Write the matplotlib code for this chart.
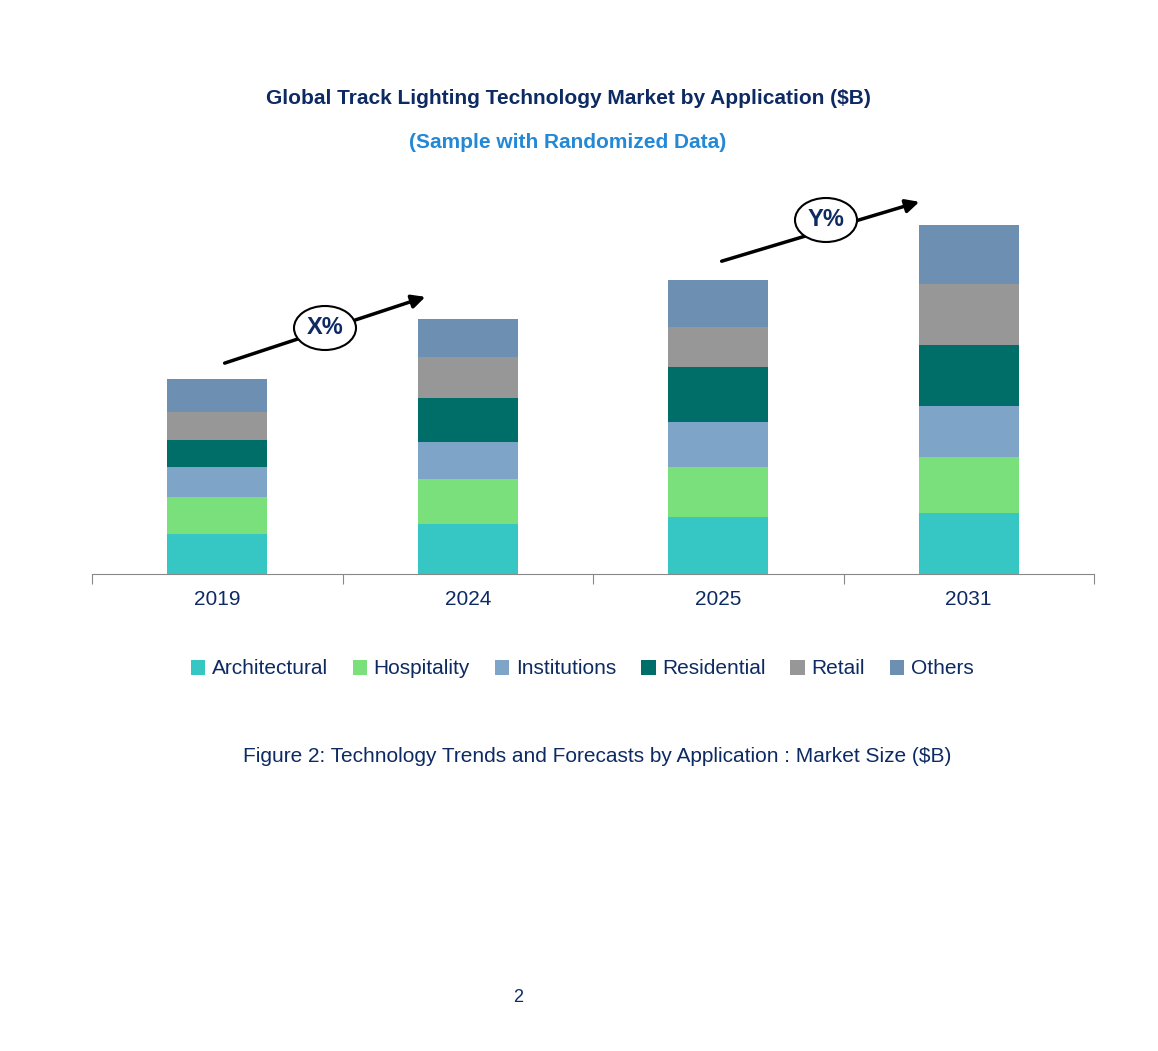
import matplotlib
matplotlib.use("Agg")
import matplotlib.pyplot as plt
from matplotlib.patches import Ellipse
import numpy as np

years = ["2019", "2024", "2025", "2031"]
series = ["Architectural", "Hospitality", "Institutions", "Residential", "Retail", "Others"]
architectural = [4.0, 5.0, 5.7, 6.1]
hospitality = [3.7, 4.5, 5.0, 5.6]
institutions = [3.0, 3.7, 4.5, 5.1]
residential = [2.7, 4.4, 5.5, 6.1]
retail = [2.8, 4.1, 4.0, 6.1]
others = [3.3, 3.8, 4.7, 5.9]
colors = ["#36c6c4", "#7ae07c", "#7ea5c8", "#006e68", "#979797", "#6d90b2"]

W, H = 1158, 1051
fig = plt.figure(figsize=(W/100, H/100), dpi=100)
ax = fig.add_axes([92/W, (H-574)/H, (1094-92)/W, 400/H])
x = np.arange(len(years))
bottom = np.zeros(len(years))
for name, vals, c in zip(series, [architectural, hospitality, institutions, residential, retail, others], colors):
    ax.bar(x, vals, 0.4, bottom=bottom, color=c, label=name)
    bottom += np.array(vals)
ax.set_xlim(-0.5, 3.5)
ax.set_ylim(0, 40)
for s in ["top", "right", "left"]:
    ax.spines[s].set_visible(False)
ax.spines["bottom"].set_color("#888888")
ax.set_yticks([])
ax.set_xticks([-0.5, 0.5, 1.5, 2.5, 3.5], minor=False)
ax.set_xticklabels([])
ax.tick_params(axis="x", length=7, color="#888888", direction="out")
for xi, y in zip(x, years):
    ax.text(xi, -1.6, y, ha="center", va="top", fontsize=15, color="#0d2a63", family="Liberation Sans")

navy = "#0d2a63"
def fp(px, py):
    return (px/W, 1-py/H)
for (p0, p1, c, lab) in [((222, 364), (428, 296), (325, 328), "X%"), ((719, 262), (922, 201), (826, 220), "Y%")]:
    fig.add_artist(matplotlib.patches.FancyArrowPatch(fp(*p0), fp(*p1), transform=fig.transFigure,
                   arrowstyle="-|>,head_length=8,head_width=4", color="black", lw=2.5))
    e = Ellipse(fp(*c), 62/W, 44/H, transform=fig.transFigure, facecolor="white", edgecolor="black", lw=1.5)
    fig.add_artist(e)
    fig.text(*fp(*c), lab, ha="center", va="center", fontsize=17, fontweight="bold", color=navy, family="Liberation Sans")

fig.text(*fp(568, 98), "Global Track Lighting Technology Market by Application ($B)", ha="center", va="center",
         fontsize=15, fontweight="bold", color=navy, family="Liberation Sans")
fig.text(*fp(568, 143), "(Sample with Randomized Data)", ha="center", va="center",
         fontsize=15, fontweight="bold", color="#2389d6", family="Liberation Sans")
fig.legend(loc="center", bbox_to_anchor=fp(582, 669), ncol=6, frameon=False, fontsize=15,
           handlelength=0.7, handleheight=0.7, handletextpad=0.3, columnspacing=1.2,
           labelcolor=navy, prop={"family": "Liberation Sans", "size": 15})
fig.text(*fp(597, 757), "Figure 2: Technology Trends and Forecasts by Application : Market Size ($B)",
         ha="center", va="center", fontsize=15, color=navy, family="Liberation Sans")
fig.text(*fp(518, 998), "2", ha="center", va="center", fontsize=13, color=navy, family="Liberation Sans")
fig.savefig("out.png", dpi=100)
